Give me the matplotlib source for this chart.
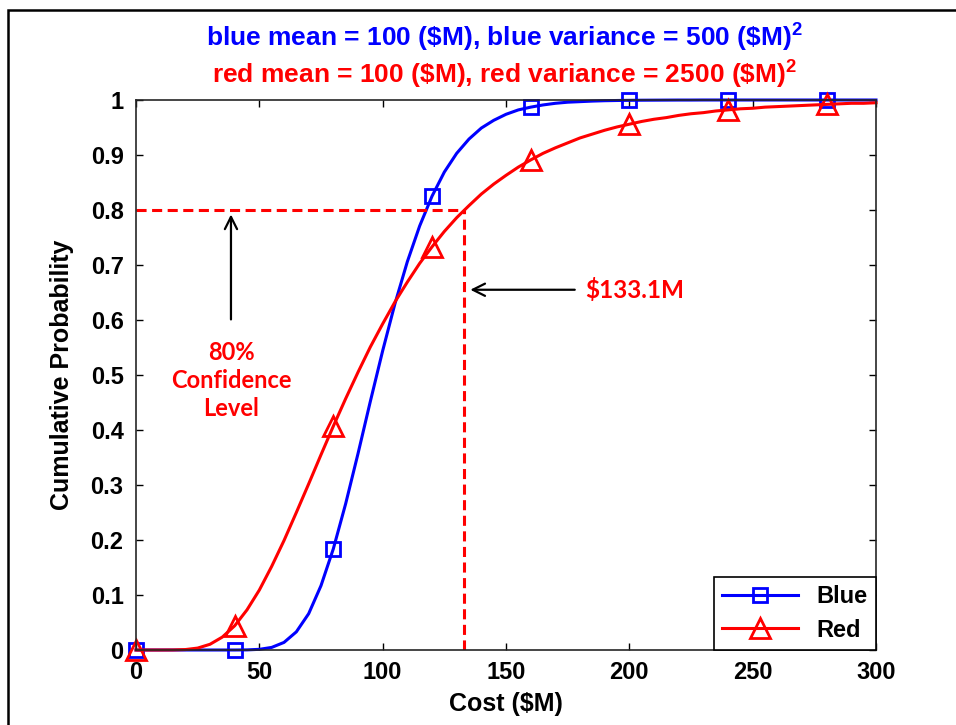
import numpy as np
import matplotlib
matplotlib.use("Agg")
from matplotlib import pyplot as plt
from matplotlib.patches import Rectangle

plt.rcParams['font.family'] = ['Liberation Sans', 'DejaVu Sans']
plt.rcParams['mathtext.fontset'] = 'custom'
plt.rcParams['mathtext.bf'] = 'Liberation Sans:bold'
plt.rcParams['mathtext.rm'] = 'Liberation Sans:bold'

# cost grid ($M), one point every 5
cost = np.arange(0, 301, 5)

blue_cdf = [0, 0, 0, 0, 0, 0, 0, 0, 0.0000, 0.0002,
            0.0012, 0.0047, 0.0138, 0.033, 0.066, 0.117, 0.184, 0.266, 0.357, 0.452,
            0.544, 0.630, 0.706, 0.771, 0.825, 0.869, 0.903, 0.929, 0.949, 0.963,
            0.974, 0.982, 0.987, 0.991, 0.994, 0.996, 0.997, 0.998, 0.9987, 0.9991,
            0.9994, 0.9996, 0.9997, 0.9998, 0.9999, 0.9999, 1.0, 1.0, 1.0, 1.0,
            1.0, 1.0, 1.0, 1.0, 1.0, 1.0, 1.0, 1.0, 1.0, 1.0, 1.0]

red_cdf = [0, 0, 0, 0.0001, 0.0008, 0.0035, 0.0104, 0.0235, 0.044, 0.073,
           0.109, 0.152, 0.199, 0.250, 0.302, 0.355, 0.407, 0.457, 0.505, 0.551,
           0.593, 0.633, 0.669, 0.703, 0.733, 0.761, 0.786, 0.808, 0.829, 0.847,
           0.863, 0.878, 0.891, 0.903, 0.913, 0.922, 0.931, 0.938, 0.945, 0.951,
           0.956, 0.961, 0.965, 0.968, 0.972, 0.975, 0.977, 0.980, 0.982, 0.984,
           0.985, 0.987, 0.988, 0.989, 0.990, 0.991, 0.992, 0.993, 0.994, 0.994, 0.995]

conf_level = 0.8
conf_cost = 133.1

fig = plt.figure(figsize=(9.56, 7.25), dpi=100)
ax = fig.add_axes([136 / 956, 1 - 650 / 725, 740 / 956, 550 / 725])

# outer frame around the figure
fig.patches.append(Rectangle((8 / 956, -0.05), 1.2, (1 - 10 / 725) + 0.05,
                             transform=fig.transFigure, fill=False,
                             edgecolor='black', linewidth=1.8))

ax.plot(cost, blue_cdf, color='blue', lw=2.2, marker='s', markevery=8,
        ms=10, mfc='none', mec='blue', mew=2.0, label='Blue', clip_on=False)
ax.plot(cost, red_cdf, color='red', lw=2.2, marker='^', markevery=8,
        ms=15, mfc='none', mec='red', mew=2.0, label='Red', clip_on=False)

ax.plot([0, conf_cost], [conf_level, conf_level], color='red', ls='--', lw=2.2,
        dashes=(3.3, 1.8))
ax.plot([conf_cost, conf_cost], [0, conf_level], color='red', ls='--', lw=2.2,
        dashes=(3.3, 1.8))

ax.annotate('', xy=(38.5, 0.797), xytext=(38.5, 0.596),
            arrowprops=dict(arrowstyle='->', color='black', lw=1.6,
                            mutation_scale=22))
ax.text(38.5, 0.49, '80%\nConfidence\nLevel', color='red', fontsize=17,
        fontweight='bold', family='Lato', ha='center', va='center',
        linespacing=1.25)
ax.annotate('', xy=(134.4, 0.655), xytext=(179, 0.655),
            arrowprops=dict(arrowstyle='->', color='black', lw=1.6,
                            mutation_scale=22))
ax.text(182, 0.655, r'\$133.1M', color='red', fontsize=17.5,
        fontweight='bold', family='Lato', ha='left', va='center')

ax.set_xlim(0, 300)
ax.set_ylim(0, 1)
ax.set_xticks(np.arange(0, 301, 50))
ax.set_yticks(np.arange(0, 1.01, 0.1))
ax.set_yticklabels(['0', '0.1', '0.2', '0.3', '0.4', '0.5', '0.6', '0.7',
                    '0.8', '0.9', '1'])
ax.tick_params(direction='in', length=5, width=1, top=True, right=True,
               labelsize=17)
ax.tick_params(axis='x', pad=8)
ax.tick_params(axis='y', pad=9)
for lab in ax.get_xticklabels() + ax.get_yticklabels():
    lab.set_fontweight('bold')
for sp in ax.spines.values():
    sp.set_linewidth(1.2)
    sp.set_color('#262626')

ax.set_xlabel(r'Cost (\$M)', fontsize=18, fontweight='bold', labelpad=6)
ax.set_ylabel('Cumulative Probability', fontsize=18, fontweight='bold',
              labelpad=12)

fig.text(504 / 956, 1 - 37 / 725,
         r'blue mean = 100 (\$M), blue variance = 500 (\$M)$^{\mathbf{2}}$',
         color='blue', fontsize=19, fontweight='bold', ha='center', va='center')
fig.text(504 / 956, 1 - 74 / 725,
         r'red mean = 100 (\$M), red variance = 2500 (\$M)$^{\mathbf{2}}$',
         color='red', fontsize=19, fontweight='bold', ha='center', va='center')

leg = ax.legend(loc='lower right', prop={'weight': 'bold', 'size': 17},
                fancybox=False, edgecolor='black', framealpha=1,
                handlelength=3.2, borderaxespad=0, borderpad=0.35,
                labelspacing=0.45, handletextpad=0.8)
leg.get_frame().set_linewidth(1.2)

fig.savefig('out.png', dpi=100)
